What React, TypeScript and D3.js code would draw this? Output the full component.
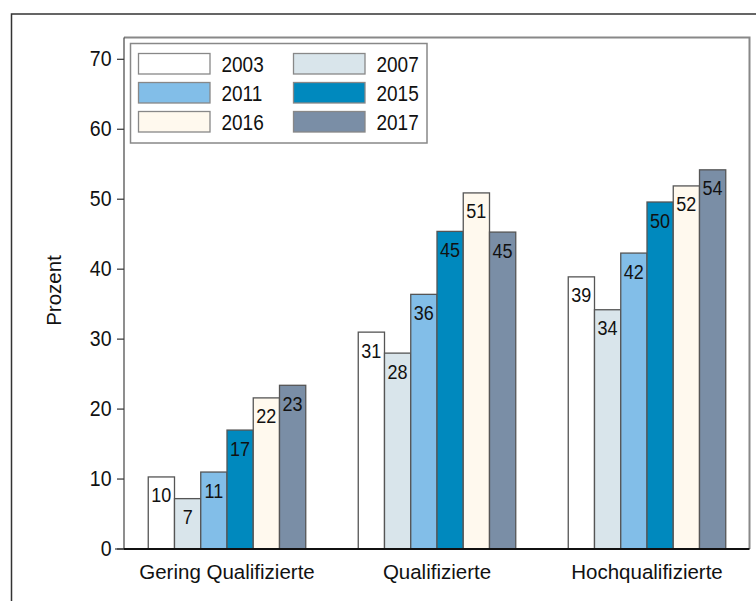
import React from "react";
import * as d3 from "d3";

const categories = ["Gering Qualifizierte", "Qualifizierte", "Hochqualifizierte"];
const years = ["2003", "2007", "2011", "2015", "2016", "2017"];
const v2003 = [10.3, 31.0, 38.9];
const v2007 = [7.2, 28.0, 34.2];
const v2011 = [11.0, 36.4, 42.3];
const v2015 = [17.0, 45.4, 49.6];
const v2016 = [21.6, 50.9, 51.9];
const v2017 = [23.4, 45.3, 54.2];
const seriesValues = [v2003, v2007, v2011, v2015, v2016, v2017];
const yTicks = [0, 10, 20, 30, 40, 50, 60, 70];
const colors = ["#ffffff", "#d9e5eb", "#82bee8", "#0089be", "#fff9ee", "#7a8ea6"];

const W = 756;
const H = 601;
const plot = { left: 124, top: 37.5, right: 749.5, bottom: 549 };
const SY = 1.17;

export default function App() {
  const y = d3.scaleLinear().domain([0, 70]).range([549, 59.3]);
  const x0 = d3
    .scaleBand<string>()
    .domain(categories)
    .range([122, 752])
    .paddingInner(0.25)
    .paddingOuter(0.125);
  const x1 = d3.scaleBand<string>().domain(years).range([0, x0.bandwidth()]);
  const fmt = d3.format(".0f");
  const font = "'Liberation Sans', Arial, sans-serif";

  const legendX = [138.5, 293.5];
  const legendY = [53.5, 82.5, 111.5];

  return (
    <svg
      width={W}
      height={H}
      style={{ position: "absolute", left: 0, top: 0, background: "#fff" }}
      fontFamily={font}
    >
      {/* outer frame */}
      <rect x={11.5} y={14} width={800} height={700} fill="none" stroke="#333" strokeWidth={1.5} />
      {/* plot frame */}
      <path
        d={`M${plot.left},${plot.top} H${plot.right} V${plot.bottom}`}
        fill="none"
        stroke="#888"
        strokeWidth={2}
      />
      <line x1={plot.left} x2={plot.left} y1={plot.top} y2={plot.bottom} stroke="#444" strokeWidth={1.2} />

      {/* y ticks */}
      {yTicks.map((t) => (
        <g key={t}>
          <line x1={117} x2={plot.left} y1={y(t)} y2={y(t)} stroke="#333" strokeWidth={1.2} />
          <text
            transform={`translate(111.5,${y(t) + 7}) scale(1,${SY})`}
            textAnchor="end"
            fontSize={19.5}
            fill="#111"
          >
            {t}
          </text>
        </g>
      ))}

      {/* y label */}
      <text
        transform={`translate(61,290.5) rotate(-90)`}
        textAnchor="middle"
        fontSize={20.5}
        fill="#111"
      >
        Prozent
      </text>

      {/* bars */}
      {categories.map((c, ci) => (
        <g key={c} transform={`translate(${x0(c)},0)`}>
          {years.map((yr, si) => {
            const v = seriesValues[si][ci];
            const bx = x1(yr) as number;
            return (
              <g key={yr}>
                <rect
                  x={bx}
                  y={y(v)}
                  width={x1.bandwidth()}
                  height={y(0) - y(v)}
                  fill={colors[si]}
                  stroke="#555"
                  strokeWidth={1.3}
                />
                <text
                  transform={`translate(${bx + x1.bandwidth() / 2},${y(v) + 25.5}) scale(1,${SY})`}
                  textAnchor="middle"
                  fontSize={18}
                  fill="#111"
                >
                  {fmt(v)}
                </text>
              </g>
            );
          })}
        </g>
      ))}

      {/* x axis */}
      <line x1={plot.left} x2={plot.right} y1={549} y2={549} stroke="#111" strokeWidth={2} />
      <line x1={115} x2={plot.left} y1={549} y2={549} stroke="#333" strokeWidth={1.2} />
      {categories.map((c) => (
        <text
          key={c}
          x={(x0(c) as number) + x0.bandwidth() / 2}
          y={578.5}
          textAnchor="middle"
          fontSize={20.5}
          fill="#111"
        >
          {c}
        </text>
      ))}

      {/* legend */}
      <rect x={130.5} y={43.5} width={296.5} height={99.5} fill="#fff" stroke="#888" strokeWidth={1.5} />
      {years.map((yr, i) => {
        const col = i % 2;
        const row = Math.floor(i / 2);
        const lx = legendX[col];
        const ly = legendY[row];
        return (
          <g key={yr}>
            <rect x={lx} y={ly} width={71.5} height={20.5} fill={colors[i]} stroke="#888" strokeWidth={1.3} />
            <text
              transform={`translate(${lx + 83},${ly + 18.5}) scale(1,${SY})`}
              fontSize={19}
              fill="#111"
            >
              {yr}
            </text>
          </g>
        );
      })}
    </svg>
  );
}
